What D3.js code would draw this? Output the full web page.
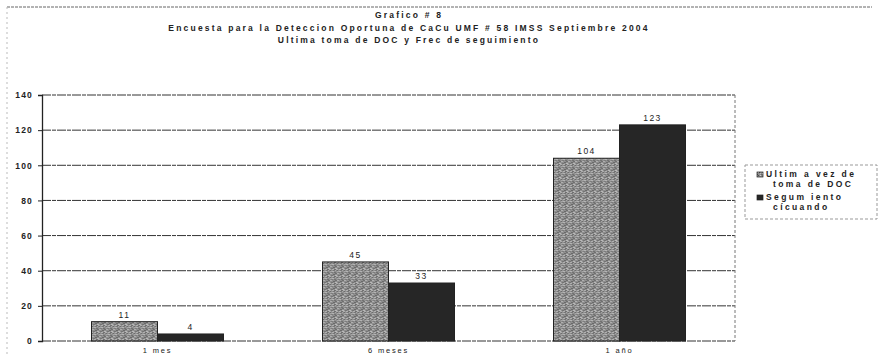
<!DOCTYPE html>
<html>
<head>
<meta charset="utf-8">
<script src="https://cdn.jsdelivr.net/npm/d3@7"></script>
<style>
  body { margin: 0; background: #fff; }
  text { font-family: "Liberation Sans", Arial, sans-serif; fill: #222; }
</style>
</head>
<body>
<div id="grafico"></div>
<script>
// datos del grafico
var categorias = ["1 mes", "6 meses", "1 año"],
    series = ["Ultima vez de toma de DOC", "Segumiento cícuando"],
    ultimaToma = [11, 45, 104],
    seguimiento = [4, 33, 123],
    yTicks = [0, 20, 40, 60, 80, 100, 120, 140];

var titulos = ["Grafico # 8",
               "Encuesta para la Deteccion  Oportuna de CaCu UMF # 58 IMSS Septiembre 2004",
               "Ultima toma de DOC y Frec de seguimiento"];

var w = 878, h = 356,
    margin = {top: 95, right: 143, bottom: 15, left: 42};

var width = w - margin.left - margin.right,
    height = h - margin.top - margin.bottom;

var svg = d3.select("#grafico")
            .append("svg")
            .attr("width", w)
            .attr("height", h);

// textura punteada para la primera serie
var defs = svg.append("defs");
var pat = defs.append("pattern")
    .attr("id", "punteado")
    .attr("patternUnits", "userSpaceOnUse")
    .attr("width", 7).attr("height", 7);
pat.append("rect").attr("width", 7).attr("height", 7).attr("fill", "#8f8f8f");
var puntos = [[0,0,"#4a4a4a"],[3,1,"#d8d8d8"],[5,2,"#555"],[1,3,"#cfcfcf"],[4,4,"#444"],
              [6,5,"#e0e0e0"],[2,5,"#5a5a5a"],[0,6,"#c8c8c8"],[5,6,"#505050"],[2,2,"#6a6a6a"],[6,0,"#bdbdbd"],
              [1,1,"#bbb"],[4,0,"#606060"],[3,6,"#d0d0d0"],[6,3,"#505050"]];
puntos.forEach(function(p) {
    pat.append("rect").attr("x", p[0]).attr("y", p[1]).attr("width", 1).attr("height", 1).attr("fill", p[2]);
});

// borde exterior
svg.append("line").attr("x1", 7).attr("x2", 872).attr("y1", 7).attr("y2", 7)
    .attr("stroke", "#666").attr("stroke-dasharray", "3,1");
svg.append("line").attr("x1", 7).attr("x2", 7).attr("y1", 7).attr("y2", 356)
    .attr("stroke", "#bbb").attr("stroke-dasharray", "2,3");

// titulos
svg.selectAll(".titulo")
    .data(titulos)
    .enter().append("text")
    .attr("class", "titulo")
    .attr("x", 409)
    .attr("y", function(d, i) { return 18 + i * 12.5; })
    .attr("text-anchor", "middle")
    .style("font-size", "8.5px")
    .style("font-weight", "bold")
    .style("letter-spacing", "2.2px")
    .text(function(d) { return d; });

var g = svg.append("g").attr("transform", "translate(" + margin.left + "," + margin.top + ")");

var x0 = d3.scaleBand()
        .domain(categorias)
        .range([0, width])
        .paddingInner(99 / 231)
        .paddingOuter(49.5 / 231),
    x1 = d3.scaleBand()
        .domain([0, 1])
        .range([0, x0.bandwidth()]),
    y = d3.scaleLinear()
        .domain([0, 140])
        .range([height, 0]);

// lineas de la cuadricula
g.selectAll(".grid")
    .data(yTicks)
    .enter().append("line")
    .attr("class", "grid")
    .attr("x1", 0).attr("x2", width)
    .attr("y1", function(d) { return y(d); })
    .attr("y2", function(d) { return y(d); })
    .attr("stroke", "#333")
    .attr("stroke-width", 1)
    .attr("stroke-dasharray", "9,1,4,1");

// borde derecho del area
g.append("line").attr("x1", width).attr("x2", width).attr("y1", 0).attr("y2", height)
    .attr("stroke", "#777").attr("stroke-dasharray", "3,2");

var yAxis = d3.axisLeft(y).tickValues(yTicks).tickSize(4).tickPadding(5);
var ay = g.append("g").attr("class", "axisY").call(yAxis);
ay.select(".domain").attr("stroke", "#222").attr("stroke-width", 1.3);
ay.selectAll(".tick line").attr("stroke", "#222");
ay.selectAll("text")
    .style("font-size", "8.5px")
    .style("font-weight", "bold")
    .style("letter-spacing", "1.2px")
    .attr("fill", "#333");

var xAxis = d3.axisBottom(x0).tickSize(0).tickPadding(7);
var ax = g.append("g").attr("class", "axisX")
    .attr("transform", "translate(0," + height + ")")
    .call(xAxis);
ax.select(".domain").remove();
ax.selectAll("text")
    .style("font-size", "7.5px")
    .style("letter-spacing", "1.8px")
    .attr("fill", "#333");

var datos = categorias.map(function(c, i) {
    return {cat: c, valores: [ultimaToma[i], seguimiento[i]]};
});
var colores = ["url(#punteado)", "#262626"];

var grupos = g.selectAll(".grupo")
    .data(datos)
    .enter().append("g")
    .attr("class", "grupo")
    .attr("transform", function(d) { return "translate(" + x0(d.cat) + ",0)"; });

grupos.selectAll("rect")
    .data(function(d) { return d.valores; })
    .enter().append("rect")
    .attr("x", function(d, i) { return x1(i); })
    .attr("y", function(d) { return y(d); })
    .attr("width", x1.bandwidth())
    .attr("height", function(d) { return height - y(d); })
    .attr("fill", function(d, i) { return colores[i]; })
    .attr("stroke", "#222")
    .attr("stroke-width", 1);

grupos.selectAll(".etiqueta")
    .data(function(d) { return d.valores; })
    .enter().append("text")
    .attr("class", "etiqueta")
    .attr("x", function(d, i) { return x1(i) + x1.bandwidth() / 2; })
    .attr("y", function(d) { return y(d) - 4; })
    .attr("text-anchor", "middle")
    .style("font-size", "8.5px")
    .style("letter-spacing", "1.5px")
    .text(function(d) { return d; });

// leyenda
var ley = svg.append("g").attr("transform", "translate(745,165)");
ley.append("rect").attr("width", 132).attr("height", 54)
    .attr("fill", "none").attr("stroke", "#999").attr("stroke-dasharray", "3,2");
var lineasLey = [["Ultim a vez de", "toma de DOC"], ["Segum iento", "cícuando"]];
lineasLey.forEach(function(l, i) {
    ley.append("rect")
        .attr("x", 12).attr("y", 7 + i * 23)
        .attr("width", 6).attr("height", 5)
        .attr("fill", colores[i]).attr("stroke", "#222").attr("stroke-width", 0.7);
    l.forEach(function(t, j) {
        ley.append("text")
            .attr("x", 21 + j * 7).attr("y", 12 + i * 23 + j * 10)
            .style("font-size", "8.5px")
            .style("font-weight", "bold")
            .style("letter-spacing", "2.4px")
            .attr("fill", "#333")
            .text(t);
    });
});
</script>
</body>
</html>
